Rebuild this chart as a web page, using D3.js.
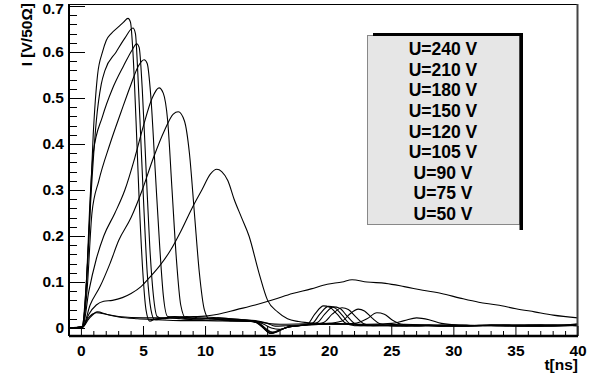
<!DOCTYPE html>
<html><head><meta charset="utf-8">
<script src="https://cdn.jsdelivr.net/npm/d3@7"></script>
<style>html,body{margin:0;padding:0;background:#fff}svg{display:block}
text{font-family:"Liberation Sans",Arial,sans-serif;font-weight:bold;fill:#000}</style>
</head><body><svg id="c" width="601" height="380"></svg>
<script>
// ---- data (t in ns, I in V/50Ω) ----
const u240 = [[-1,0],[0,0.002],[0.3,0.05],[0.6,0.2],[0.95,0.42],[1.3,0.55],[1.7,0.6],[2.0,0.625],[2.4,0.64],[3.0,0.655],[3.4,0.665],[3.75,0.673],[3.95,0.665],[4.15,0.6],[4.4,0.45],[4.65,0.28],[4.95,0.12],[5.2,0.04],[5.5,0.015],[6.0,0.02],[7.0,0.022],[8.0,0.02],[9.0,0.018],[10,0.017],[11,0.018],[12,0.016],[13,0.015],[14,0.013],[14.6,0.002],[15.2,-0.012],[15.8,-0.008],[16.4,0.0],[17.2,0.004],[18.2,0.008],[18.8,0.03],[19.5,0.048],[20.0,0.045],[20.6,0.03],[21.2,0.012],[22,0.005],[24,0.006],[26,0.004],[28,0.007],[30,0.004],[32,0.006],[34,0.005],[36,0.007],[38,0.005],[40,0.009]];
const u210 = [[-1,0],[0.05,0.002],[0.4,0.1],[0.8,0.3],[1.2,0.45],[1.6,0.53],[1.9,0.56],[2.8,0.6],[3.5,0.63],[4.15,0.652],[4.35,0.64],[4.55,0.55],[4.8,0.4],[5.05,0.25],[5.3,0.12],[5.6,0.04],[5.9,0.018],[6.5,0.02],[7.5,0.024],[8.5,0.02],[9.5,0.019],[10.5,0.02],[11.5,0.017],[12.5,0.016],[13.5,0.015],[14.2,0.01],[14.8,-0.004],[15.3,-0.012],[15.9,-0.006],[16.5,0.001],[17.5,0.005],[18.6,0.01],[19.2,0.03],[19.9,0.047],[20.4,0.044],[21,0.028],[21.6,0.01],[22.5,0.005],[25,0.005],[27,0.006],[29,0.004],[31,0.006],[33,0.005],[35,0.004],[37,0.006],[40,0.007]];
const u180 = [[-1,0],[0.1,0.003],[0.4,0.1],[0.7,0.28],[0.95,0.38],[1.7,0.46],[2.5,0.52],[3.4,0.57],[4.1,0.605],[4.45,0.618],[4.65,0.61],[4.9,0.52],[5.2,0.35],[5.5,0.18],[5.8,0.07],[6.1,0.025],[6.6,0.02],[7.5,0.025],[8.5,0.022],[9.5,0.02],[10.5,0.021],[11.5,0.018],[12.5,0.017],[13.5,0.016],[14.3,0.01],[14.9,-0.004],[15.4,-0.01],[16,-0.004],[16.7,0.002],[17.8,0.006],[19,0.012],[19.6,0.03],[20.3,0.046],[20.8,0.043],[21.4,0.026],[22,0.01],[23,0.005],[25,0.006],[27,0.004],[29,0.006],[31,0.005],[33,0.007],[35,0.005],[37,0.004],[40,0.006]];
const u150 = [[-1,0],[0.1,0.002],[0.45,0.08],[0.85,0.25],[1.4,0.32],[2.3,0.4],[3.2,0.47],[4.0,0.53],[4.6,0.57],[5.05,0.583],[5.3,0.575],[5.6,0.5],[5.95,0.34],[6.3,0.18],[6.6,0.07],[6.95,0.025],[7.5,0.024],[8.5,0.025],[9.5,0.022],[10.5,0.02],[11.5,0.019],[12.5,0.018],[13.5,0.016],[14.3,0.011],[14.9,-0.002],[15.4,-0.009],[16,-0.004],[16.8,0.003],[18,0.006],[19.5,0.012],[20.2,0.03],[21,0.044],[21.5,0.04],[22.1,0.024],[22.7,0.01],[23.5,0.005],[25,0.005],[27,0.007],[29,0.005],[31,0.004],[33,0.006],[35,0.005],[37,0.007],[40,0.005]];
const u120 = [[-1,0],[0.1,0.002],[0.6,0.08],[1.2,0.15],[1.8,0.2],[2.7,0.25],[3.5,0.3],[4.3,0.37],[5.0,0.44],[5.7,0.5],[6.25,0.522],[6.6,0.51],[6.95,0.45],[7.3,0.3],[7.65,0.15],[8.0,0.05],[8.4,0.022],[9,0.025],[10,0.024],[11,0.022],[12,0.02],[13,0.018],[14,0.015],[14.7,0.008],[15.3,0.0],[16,-0.003],[16.7,0.003],[18,0.006],[20,0.01],[21,0.015],[21.6,0.03],[22.3,0.041],[22.8,0.037],[23.4,0.022],[24,0.01],[25,0.005],[27,0.006],[29,0.004],[31,0.006],[33,0.005],[35,0.006],[37,0.004],[40,0.006]];
const u105 = [[-1,0],[0.1,0.002],[0.7,0.05],[1.5,0.09],[2.3,0.14],[3.0,0.19],[4.0,0.24],[4.9,0.3],[5.8,0.37],[6.7,0.43],[7.4,0.465],[7.8,0.47],[8.3,0.45],[8.7,0.38],[9.1,0.25],[9.5,0.12],[9.9,0.04],[10.3,0.02],[11,0.022],[12,0.02],[13,0.018],[14,0.016],[15,0.01],[15.6,0.004],[16.5,0.005],[18,0.007],[20,0.008],[22,0.01],[23,0.02],[23.8,0.033],[24.4,0.03],[25,0.018],[25.8,0.008],[27,0.005],[29,0.006],[31,0.004],[33,0.006],[35,0.005],[37,0.006],[40,0.005]];
const u90 = [[-1,0],[0.1,0.002],[0.6,0.03],[1.2,0.05],[1.8,0.058],[2.5,0.06],[3.3,0.066],[4.0,0.075],[4.8,0.09],[5.5,0.11],[6.3,0.135],[7.2,0.17],[8.0,0.21],[8.9,0.26],[9.7,0.3],[10.4,0.335],[10.9,0.345],[11.3,0.34],[11.8,0.32],[12.3,0.28],[12.9,0.24],[13.5,0.2],[14.3,0.12],[15.0,0.06],[15.8,0.035],[16.6,0.02],[17.5,0.014],[19,0.01],[21,0.008],[23,0.008],[25,0.01],[26,0.016],[27,0.022],[28,0.018],[29,0.01],[30.5,0.006],[32,0.005],[34,0.006],[36,0.004],[38,0.006],[40,0.005]];
const u75 = [[-1,0],[0.1,0.002],[0.5,0.02],[1.2,0.033],[2,0.03],[3,0.025],[5,0.022],[7,0.022],[9,0.024],[11,0.03],[12.5,0.04],[14,0.05],[15.5,0.062],[17,0.075],[18.5,0.085],[19.8,0.095],[21,0.1],[21.8,0.105],[23,0.1],[24.5,0.097],[26,0.09],[27.5,0.082],[29,0.075],[30.5,0.065],[32,0.056],[33.5,0.05],[35,0.042],[36.5,0.035],[38,0.028],[40,0.022]];
const u50 = [[-1,0],[0.1,0.002],[0.6,0.02],[1.3,0.035],[2,0.03],[3,0.024],[4.5,0.02],[6,0.018],[8,0.016],[10,0.016],[12,0.015],[14,0.014],[15,0.01],[16,0.008],[18,0.009],[20,0.01],[22,0.008],[24,0.007],[26,0.008],[28,0.006],[30,0.007],[32,0.005],[34,0.007],[36,0.006],[38,0.005],[40,0.008]];
const seriesData = [u240, u210, u180, u150, u120, u105, u90, u75, u50];
const legendLabels = ["U=240 V","U=210 V","U=180 V","U=150 V","U=120 V","U=105 V","U=90 V","U=75 V","U=50 V"];
const xTicks = [0,5,10,15,20,25,30,35,40];
const yTicks = [0,0.1,0.2,0.3,0.4,0.5,0.6,0.7];
const xTitle = "t[ns]";
const yTitle = "I [V/50\u03A9]";

// ---- layout ----
const L=69, R=578, T=4, B=336;
const svg = d3.select("#c");
const x = d3.scaleLinear().domain([-1,40]).range([L,R]);
const y = d3.scaleLinear().domain([-0.0174,0.7043]).range([B,T]);

// curves
const line = d3.line().x(d=>x(d[0])).y(d=>y(d[1])).curve(d3.curveMonotoneX);
svg.append("defs").append("clipPath").attr("id","clip").append("rect")
  .attr("x",L).attr("y",T).attr("width",R-L).attr("height",B-T);
svg.append("g").attr("clip-path","url(#clip)").selectAll("path").data(seriesData).join("path")
  .attr("d",line).attr("fill","none").attr("stroke","#000").attr("stroke-width",1.1);

// frame
svg.append("rect").attr("x",L+0.5).attr("y",T+0.5).attr("width",R-L-1).attr("height",B-T-1)
  .attr("fill","none").attr("stroke","#000").attr("stroke-width",1);
svg.append("line").attr("x1",R-0.5).attr("x2",R-0.5).attr("y1",T).attr("y2",B).attr("stroke","#444").attr("stroke-width",2);

// x axis
const xMinor = d3.range(-1,41,1);
const gx = svg.append("g");
gx.selectAll("line.mi").data(xMinor).join("line")
  .attr("x1",d=>x(d)).attr("x2",d=>x(d)).attr("y1",B).attr("y2",d=>B-(xTicks.includes(d)?10:5))
  .attr("stroke","#000").attr("stroke-width",1);
gx.append("line").attr("x1",L).attr("x2",R).attr("y1",B).attr("y2",B).attr("stroke","#000").attr("stroke-width",2.5);
gx.selectAll("text").data(xTicks).join("text")
  .attr("x",d=>x(d)).attr("y",356).attr("text-anchor","middle").attr("font-size",15.5).text(d=>d);
svg.append("text").attr("x",R).attr("y",370).attr("text-anchor","end").attr("font-size",15.5).text(xTitle);

// y axis
const yMinor = d3.range(0,36).map(i=>+(i*0.02).toFixed(2)).filter(v=>v<=0.704);
const gy = svg.append("g");
gy.selectAll("line.mi").data(yMinor).join("line")
  .attr("x1",L).attr("x2",d=>L+(Math.abs(d*10-Math.round(d*10))<1e-6?16:8))
  .attr("y1",d=>Math.round(y(d))+0.5).attr("y2",d=>Math.round(y(d))+0.5)
  .attr("stroke","#000").attr("stroke-width",1);
gy.append("line").attr("x1",L).attr("x2",L).attr("y1",T).attr("y2",B).attr("stroke","#000").attr("stroke-width",2);
gy.selectAll("text").data(yTicks).join("text")
  .attr("x",64).attr("y",d=>Math.max(y(d)+5.5,13.5)).attr("text-anchor","end").attr("font-size",15.5)
  .text(d=>d===0?"0":d3.format(".1f")(d));
svg.append("text").attr("transform","translate(32,3) rotate(-90)").attr("text-anchor","end")
  .attr("font-size",15.5).text(yTitle);

// legend
const lg = svg.append("g");
lg.append("rect").attr("x",367.5).attr("y",35.5).attr("width",152).attr("height",189)
  .attr("fill","#e6e6e6").attr("stroke","#888").attr("stroke-width",1);
lg.append("rect").attr("x",373).attr("y",33).attr("width",150).attr("height",3).attr("fill","#000");
lg.append("rect").attr("x",519.5).attr("y",33).attr("width",3.5).attr("height",197).attr("fill","#000");
const ly = d3.scaleLinear().domain([0,legendLabels.length-1]).range([55,220]);
lg.selectAll("text").data(legendLabels).join("text")
  .attr("x",443).attr("y",(d,i)=>ly(i)).attr("text-anchor","middle").attr("font-size",17.5).text(d=>d);
</script></body></html>
